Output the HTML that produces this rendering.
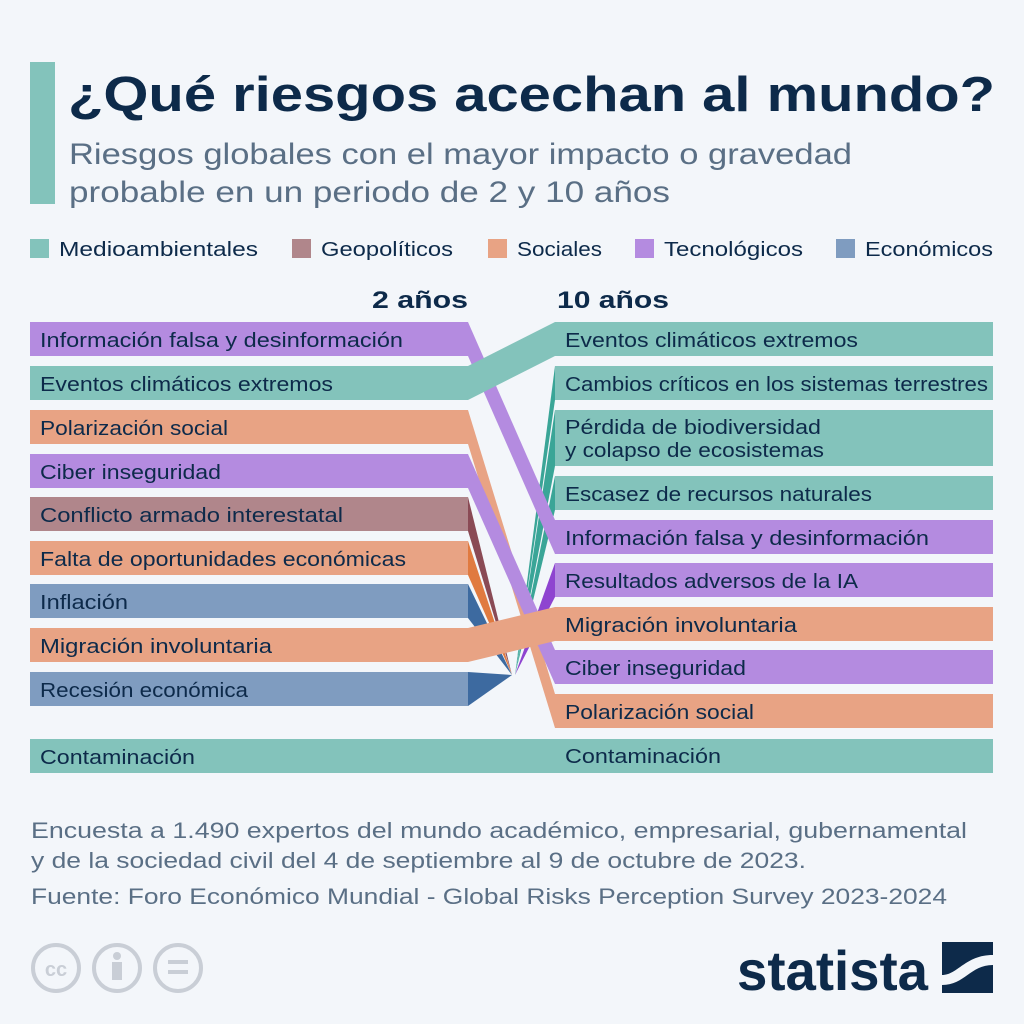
<!DOCTYPE html>
<html><head><meta charset="utf-8"><style>
html,body{margin:0;padding:0;background:#f3f6fa;}
svg{display:block;font-family:"Liberation Sans","DejaVu Sans",sans-serif;}
</style></head><body>
<svg width="1024" height="1024" viewBox="0 0 1024 1024">
<rect width="1024" height="1024" fill="#f3f6fa"/>
<rect x="30" y="62" width="25" height="142" fill="#83c3bb"/>
<text x="68" y="111" font-size="49" font-weight="bold" fill="#0d2a4a" textLength="927" lengthAdjust="spacingAndGlyphs">¿Qué riesgos acechan al mundo?</text>
<text x="69" y="164" font-size="30" fill="#5a6f85" textLength="783" lengthAdjust="spacingAndGlyphs">Riesgos globales con el mayor impacto o gravedad</text>
<text x="69" y="202" font-size="30" fill="#5a6f85" textLength="601" lengthAdjust="spacingAndGlyphs">probable en un periodo de 2 y 10 años</text>
<g font-size="20.5" fill="#0d2a4a" lengthAdjust="spacingAndGlyphs">
<rect x="30" y="239" width="19" height="19" fill="#83c3bb"/><text x="59" y="256" textLength="199" lengthAdjust="spacingAndGlyphs">Medioambientales</text>
<rect x="292" y="239" width="19" height="19" fill="#b0868b"/><text x="321" y="256" textLength="132" lengthAdjust="spacingAndGlyphs">Geopolíticos</text>
<rect x="488" y="239" width="19" height="19" fill="#e8a384"/><text x="517" y="256" textLength="85" lengthAdjust="spacingAndGlyphs">Sociales</text>
<rect x="635" y="239" width="19" height="19" fill="#b48be0"/><text x="664" y="256" textLength="139" lengthAdjust="spacingAndGlyphs">Tecnológicos</text>
<rect x="836" y="239" width="19" height="19" fill="#7f9cc0"/><text x="865" y="256" textLength="128" lengthAdjust="spacingAndGlyphs">Económicos</text>
</g>
<text x="372" y="308" font-size="24" font-weight="bold" fill="#0d2a4a" textLength="96" lengthAdjust="spacingAndGlyphs">2 años</text>
<text x="557" y="308" font-size="24" font-weight="bold" fill="#0d2a4a" textLength="112" lengthAdjust="spacingAndGlyphs">10 años</text>

<polygon points="468,497 468,531 512,675" fill="#8a4a55"/>
<polygon points="468,541 468,575 512,675" fill="#e07a40"/>
<polygon points="468,584 468,618 512,675" fill="#3d6aa0"/>
<polygon points="468,672 468,706 512,675" fill="#3d6aa0"/>
<polygon points="515,675 555,366 555,400" fill="#3aa597"/>
<polygon points="515,675 555,410 555,466" fill="#3aa597"/>
<polygon points="515,675 555,476 555,510" fill="#3aa597"/>
<polygon points="515,675 555,563 555,597" fill="#8e44d0"/>

<polygon points="468,410 468,444 555,728 555,694" fill="#e8a384"/>
<polygon points="468,454 468,488 555,684 555,650" fill="#b48be0"/>
<polygon points="468,322 468,356 555,554 555,520" fill="#b48be0"/>
<polygon points="468,628 468,662 555,641 555,607" fill="#e8a384"/>
<polygon points="468,366 468,400 555,356 555,322" fill="#83c3bb"/>

<g font-size="20" fill="#0d2a4a">
<rect x="30" y="322" width="438" height="34" fill="#b48be0"/><text x="40" y="347" textLength="363" lengthAdjust="spacingAndGlyphs">Información falsa y desinformación</text>
<rect x="30" y="366" width="438" height="34" fill="#83c3bb"/><text x="40" y="391" textLength="293" lengthAdjust="spacingAndGlyphs">Eventos climáticos extremos</text>
<rect x="30" y="410" width="438" height="34" fill="#e8a384"/><text x="40" y="435" textLength="188" lengthAdjust="spacingAndGlyphs">Polarización social</text>
<rect x="30" y="454" width="438" height="34" fill="#b48be0"/><text x="40" y="479" textLength="181" lengthAdjust="spacingAndGlyphs">Ciber inseguridad</text>
<rect x="30" y="497" width="438" height="34" fill="#b0868b"/><text x="40" y="522" textLength="303" lengthAdjust="spacingAndGlyphs">Conflicto armado interestatal</text>
<rect x="30" y="541" width="438" height="34" fill="#e8a384"/><text x="40" y="566" textLength="366" lengthAdjust="spacingAndGlyphs">Falta de oportunidades económicas</text>
<rect x="30" y="584" width="438" height="34" fill="#7f9cc0"/><text x="40" y="609" textLength="88" lengthAdjust="spacingAndGlyphs">Inflación</text>
<rect x="30" y="628" width="438" height="34" fill="#e8a384"/><text x="40" y="653" textLength="232" lengthAdjust="spacingAndGlyphs">Migración involuntaria</text>
<rect x="30" y="672" width="438" height="34" fill="#7f9cc0"/><text x="40" y="697" textLength="208" lengthAdjust="spacingAndGlyphs">Recesión económica</text>

<rect x="555" y="322" width="438" height="34" fill="#83c3bb"/><text x="565" y="347" textLength="293" lengthAdjust="spacingAndGlyphs">Eventos climáticos extremos</text>
<rect x="555" y="366" width="438" height="34" fill="#83c3bb"/><text x="565" y="391" textLength="423" lengthAdjust="spacingAndGlyphs">Cambios críticos en los sistemas terrestres</text>
<rect x="555" y="410" width="438" height="56" fill="#83c3bb"/><text x="565" y="434" textLength="256" lengthAdjust="spacingAndGlyphs">Pérdida de biodiversidad</text><text x="565" y="457" textLength="259" lengthAdjust="spacingAndGlyphs">y colapso de ecosistemas</text>
<rect x="555" y="476" width="438" height="34" fill="#83c3bb"/><text x="565" y="501" textLength="307" lengthAdjust="spacingAndGlyphs">Escasez de recursos naturales</text>
<rect x="555" y="520" width="438" height="34" fill="#b48be0"/><text x="565" y="545" textLength="364" lengthAdjust="spacingAndGlyphs">Información falsa y desinformación</text>
<rect x="555" y="563" width="438" height="34" fill="#b48be0"/><text x="565" y="588" textLength="293" lengthAdjust="spacingAndGlyphs">Resultados adversos de la IA</text>
<rect x="555" y="607" width="438" height="34" fill="#e8a384"/><text x="565" y="632" textLength="232" lengthAdjust="spacingAndGlyphs">Migración involuntaria</text>
<rect x="555" y="650" width="438" height="34" fill="#b48be0"/><text x="565" y="675" textLength="181" lengthAdjust="spacingAndGlyphs">Ciber inseguridad</text>
<rect x="555" y="694" width="438" height="34" fill="#e8a384"/><text x="565" y="719" textLength="189" lengthAdjust="spacingAndGlyphs">Polarización social</text>

<rect x="30" y="739" width="963" height="34" fill="#83c3bb"/>
<text x="40" y="764" textLength="155" lengthAdjust="spacingAndGlyphs">Contaminación</text><text x="565" y="763" textLength="156" lengthAdjust="spacingAndGlyphs">Contaminación</text>
</g>

<g font-size="22" fill="#5a6f85">
<text x="31" y="838" textLength="936" lengthAdjust="spacingAndGlyphs">Encuesta a 1.490 expertos del mundo académico, empresarial, gubernamental</text>
<text x="31" y="868" textLength="775" lengthAdjust="spacingAndGlyphs">y de la sociedad civil del 4 de septiembre al 9 de octubre de 2023.</text>
<text x="31" y="904" textLength="916" lengthAdjust="spacingAndGlyphs">Fuente: Foro Económico Mundial - Global Risks Perception Survey 2023-2024</text>
</g>

<g fill="none" stroke="#c9ced6" stroke-width="4">
<circle cx="56" cy="968" r="23"/><circle cx="117" cy="968" r="23"/><circle cx="178" cy="968" r="23"/>
</g>
<text x="56" y="976" font-size="20" font-weight="bold" fill="#c9ced6" text-anchor="middle">cc</text>
<circle cx="117" cy="956" r="4" fill="#c9ced6"/><rect x="112" y="962" width="10" height="18" fill="#c9ced6"/>
<rect x="168" y="960" width="20" height="4" fill="#c9ced6"/><rect x="168" y="970" width="20" height="4" fill="#c9ced6"/>

<text x="737" y="990" font-size="56" font-weight="bold" fill="#0d2a4a" textLength="191" lengthAdjust="spacingAndGlyphs">statista</text>
<rect x="942" y="942" width="51" height="51" fill="#0d2a4a"/>
<path d="M942,975 C958,975 965,955 993,955 L993,965 C970,965 965,985 942,985 Z" fill="#f3f6fa"/>
</svg>
</body></html>
